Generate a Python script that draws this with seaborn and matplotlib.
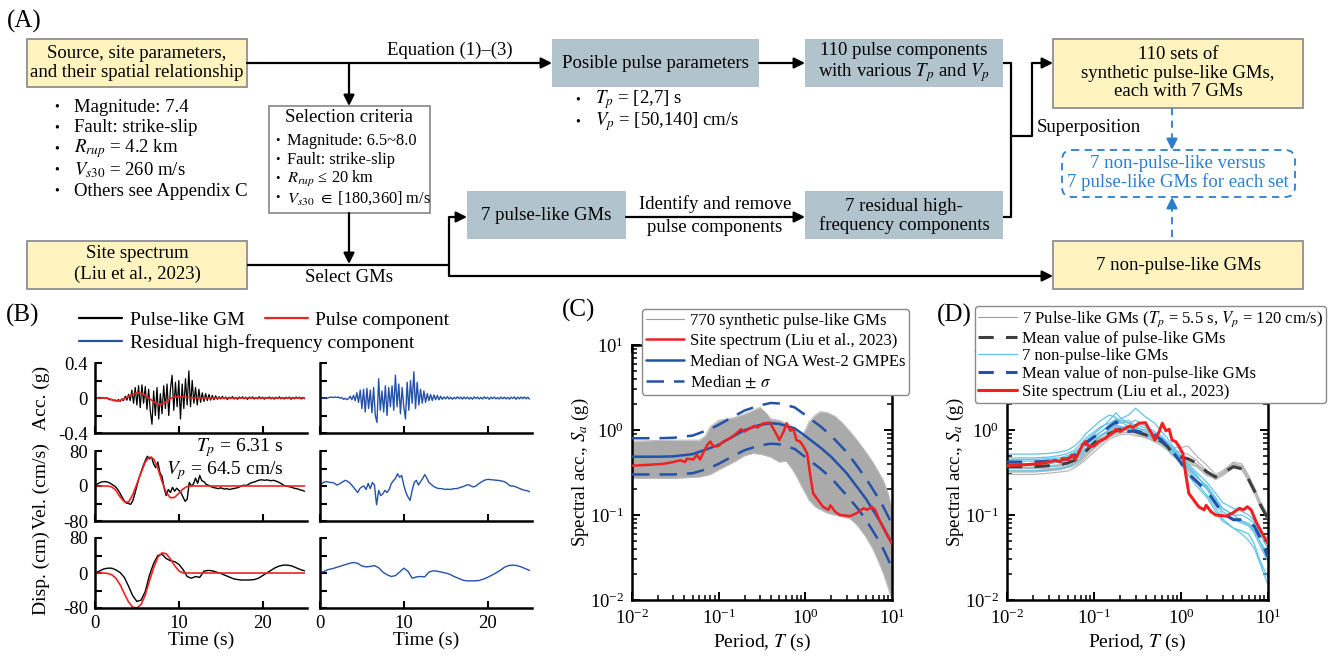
import numpy as np
import matplotlib
matplotlib.use('Agg')
import matplotlib.pyplot as plt
from matplotlib.patches import Rectangle, FancyBboxPatch
from matplotlib.lines import Line2D
import seaborn as sns

sns.set_style('ticks')
plt.rcParams['font.family'] = ['Liberation Serif', 'DejaVu Serif']
plt.rcParams['mathtext.fontset'] = 'stix'
plt.rcParams['axes.unicode_minus'] = False
for k in ['axes.edgecolor', 'xtick.color', 'ytick.color', 'text.color', 'axes.labelcolor']:
    plt.rcParams[k] = 'black'

W, H = 1332, 659

# ---------------- data: panel (B), time histories ----------------
# acceleration (g), sampled every 0.2 s
acc_gm = [0.0, 0.005, -0.005, 0.008, -0.004, 0.006, -0.008, 0.004, -0.012, -0.02,
          -0.015, -0.03, -0.022, -0.035, -0.018, -0.04, -0.01, -0.03, 0.02, -0.025,
          0.04, -0.03, 0.09, -0.06, 0.12, -0.08, 0.14, -0.11, 0.15, -0.06,
          0.13, -0.13, 0.10, -0.15, -0.30, 0.08, -0.20, 0.12, -0.24, 0.05,
          -0.18, 0.14, -0.12, 0.16, -0.20, 0.10, 0.26, -0.14, 0.18, -0.10,
          0.20, -0.24, 0.16, -0.12, 0.22, -0.08, 0.31, -0.10, 0.20, -0.06,
          0.12, -0.08, 0.10, -0.05, 0.06, -0.04, 0.05, -0.03, 0.04, -0.025,
          0.03, -0.02, 0.025, -0.015,
          0.015, -0.012, 0.02, -0.01, 0.012, -0.018, 0.01, -0.008, 0.016, -0.012,
          0.008, -0.015, 0.012, -0.006, 0.014, -0.01, 0.009, -0.016, 0.011, -0.007,
          0.013, -0.012, 0.006, -0.01, 0.015, -0.009, 0.01, -0.014, 0.008, -0.006,
          0.012, -0.011, 0.007, -0.013, 0.01, -0.008, 0.014, -0.01, 0.006, -0.012,
          0.009, -0.007, 0.011, -0.015, 0.008, -0.01, 0.012, -0.006, 0.01, -0.012,
          0.007, -0.009]
acc_res = [0.0, 0.004, -0.003, 0.002, -0.006, 0.003, 0.008, 0.01, 0.005, 0.012,
           0.006, 0.01, -0.004, 0.006, -0.015, -0.005, -0.018, -0.008, 0.02, -0.02,
           0.03, -0.03, 0.06, -0.05, 0.09, -0.12, 0.10, -0.16, 0.11, -0.12,
           0.09, -0.17, 0.12, -0.20, -0.28, 0.22, -0.14, 0.08, -0.16, 0.14,
           -0.20, 0.12, -0.10, 0.14, -0.14, 0.26, -0.10, 0.16, -0.18, 0.12,
           -0.10, -0.24, 0.18, -0.14, 0.20, -0.06, 0.30, -0.12, 0.18, -0.08,
           0.10, -0.06, 0.08, -0.05, 0.05, -0.03, 0.04, -0.03, 0.035, -0.02,
           0.03, -0.02, 0.02, -0.015,
           0.012, -0.01, 0.016, -0.012, 0.01, -0.015, 0.008, -0.01, 0.014, -0.008,
           0.01, -0.013, 0.012, -0.009, 0.011, -0.012, 0.007, -0.014, 0.012, -0.006,
           0.01, -0.011, 0.008, -0.012, 0.013, -0.007, 0.009, -0.015, 0.01, -0.008,
           0.011, -0.01, 0.006, -0.012, 0.012, -0.009, 0.01, -0.011, 0.008, -0.013,
           0.01, -0.006, 0.012, -0.014, 0.009, -0.01, 0.011, -0.008, 0.012, -0.01,
           0.008, -0.012]
# pulse component, sampled every 0.5 s
acc_pulse = [0, 0, 0, -0.003, -0.02, -0.035, -0.03, -0.005, 0.02, 0.045,
             0.058, 0.055, 0.03, -0.005, -0.045, -0.07, -0.068, -0.045, -0.005, 0.012,
             0.016, 0.013, 0.007, 0.002, 0, 0, 0, 0, 0, 0,
             0, 0, 0, 0, 0, 0, 0, 0, 0, 0,
             0, 0, 0, 0, 0, 0, 0, 0, 0, 0, 0]
vel_pulse = [0, 0, 0, 0, -2, -10, -25, -36, -37, -20,
             5, 30, 55, 66, 62, 40, 10, -15, -27, -26,
             -17, -7, -1, 0, 0, 0, 0, 0, 0, 0,
             0, 0, 0, 0, 0, 0, 0, 0, 0, 0,
             0, 0, 0, 0, 0, 0, 0, 0, 0, 0, 0]
disp_pulse = [0, 0, 0, -1, -4, -12, -27, -47, -66, -78,
              -80, -72, -50, -18, 12, 36, 46, 44, 32, 17,
              5, 0, 0, 0, 0, 0, 0, 0, 0, 0,
              0, 0, 0, 0, 0, 0, 0, 0, 0, 0,
              0, 0, 0, 0, 0, 0, 0, 0, 0, 0, 0]
# velocity (cm/s), sampled every 0.25 s
vel_gm = [0, 4, 7, 9, 10, 10, 9, 7, 4, 1,
          -3, -9, -17, -26, -34, -39, -40, -42, -34, -18,
          0, 18, 32, 46, 58, 68, 62, 66, 50, 42,
          55, 30, 22, -5, -22, -8, -15, -3, -12, -5,
          -10, -15, -25, -35, -30, 8, 0, 5, 18, 6,
          24, 12, 10, 4, 2, 0, -3, -4, -5, -6,
          -4, -6, -7, -6, -8, -7, -6, -5, -4, -2,
          0, 2, 1, 3, 6, 8, 9, 11, 13, 14,
          14, 13, 14, 13, 12, 13, 12, 10, 8, 5,
          2, 0, -1, -2, -3, -5, -6, -7, -9, -10, -12]
vel_res = [2, 6, 9, 10, 9, 8, 8, 6, 2, 4,
           7, 10, 13, 11, 8, 3, -3, -9, -15, -6,
           -2, 0, -8, 6, -6, 8, 2, -43, -10, -22,
           -18, -10, -15, -8, 5, 12, 17, 28, 20, 24,
           2, -15, -25, -33, -10, 8, 13, 2, 10, 17,
           26, 18, 8, 4, 0, -3, -5, -6, -6, -7,
           -8, -7, -8, -7, -6, -6, -5, -3, -2, 0,
           2, 3, 0, -2, -1, 2, 6, 9, 12, 14,
           15, 15, 14, 14, 13, 13, 12, 11, 10, 7,
           3, 0, 0, -1, -3, -5, -7, -9, -10, -11, -13]
# displacement (cm), sampled every 0.5 s
disp_gm = [0, 4, 9, 11, 11, 7, 1, -10, -30, -52,
           -65, -62, -42, -5, 22, 40, 43, 33, 28, 26,
           20, 8, -8, -12, -8, -10, 4, 6, 5, 2,
           -1, -5, -9, -13, -15, -16, -16, -16, -15, -12,
           -6, 0, 6, 12, 16, 18, 18, 16, 12, 8, 5]
disp_res = [0, 4, 8, 10, 13, 16, 19, 22, 24, 22,
            16, 14, 15, 17, 12, 2, -4, -8, -6, 2,
            11, 4, -12, -9, -8, -9, 2, 5, 4, 2,
            0, -3, -8, -12, -16, -18, -18, -18, -17, -14,
            -10, -5, 0, 6, 13, 17, 18, 17, 14, 10, 6]

# ---------------- data: panels (C) and (D), response spectra ----------------
T_site = [0.01, 0.016, 0.023, 0.03, 0.036, 0.041, 0.043, 0.051, 0.056, 0.061,
          0.064, 0.074, 0.08, 0.087, 0.1, 0.113, 0.135, 0.16, 0.18, 0.2,
          0.23, 0.26, 0.28, 0.33, 0.39, 0.47, 0.5, 0.56, 0.61, 0.67,
          0.73, 0.79, 0.87, 0.95, 1.05, 1.13, 1.23, 1.4, 1.6, 1.84,
          1.95, 2.2, 2.5, 3.3, 3.9, 4.7, 5.2, 5.8, 6.4, 7.3, 8.8, 10]
Sa_site = [0.38, 0.39, 0.40, 0.42, 0.44, 0.42, 0.46, 0.45, 0.51, 0.45,
           0.50, 0.67, 0.73, 0.64, 0.65, 0.73, 0.80, 0.91, 1.02, 0.96,
           1.05, 1.12, 1.07, 1.2, 1.22, 0.87, 0.76, 0.95, 1.2, 0.98,
           1.02, 0.76, 0.73, 0.64, 0.53, 0.31, 0.18, 0.15, 0.125, 0.115,
           0.13, 0.11, 0.10, 0.097, 0.105, 0.12, 0.115, 0.125, 0.115, 0.083, 0.058, 0.046]

T_nga = [0.01, 0.02, 0.03, 0.05, 0.075, 0.1, 0.15, 0.2, 0.3, 0.4,
         0.5, 0.75, 1, 1.5, 2, 3, 4, 5, 7.5, 10]
Sa_nga_med = [0.485, 0.485, 0.49, 0.52, 0.6, 0.67, 0.85, 1.0, 1.15, 1.2,
              1.18, 1.05, 0.85, 0.62, 0.48, 0.31, 0.21, 0.155, 0.08, 0.046]
Sa_nga_hi = [0.80, 0.80, 0.81, 0.86, 1.0, 1.15, 1.45, 1.7, 1.95, 2.08,
             2.05, 1.85, 1.5, 1.1, 0.85, 0.55, 0.37, 0.27, 0.14, 0.078]
Sa_nga_lo = [0.30, 0.30, 0.30, 0.31, 0.35, 0.40, 0.50, 0.58, 0.66, 0.69,
             0.68, 0.6, 0.48, 0.35, 0.27, 0.17, 0.12, 0.088, 0.045, 0.024]

# envelope of the 770 synthetic pulse-like spectra
T_band = [0.01, 0.03, 0.06, 0.07, 0.08, 0.09, 0.1, 0.15, 0.2, 0.25,
          0.3, 0.35, 0.4, 0.5, 0.6, 0.7, 0.8, 0.9, 1.0, 1.1,
          1.3, 1.5, 1.8, 2.2, 2.7, 3.3, 4, 5, 6, 7, 8, 9, 10]
Sa_band_hi = [0.74, 0.76, 0.76, 0.85, 1.1, 1.2, 1.3, 1.4, 1.55, 1.7,
              1.85, 1.6, 1.35, 1.3, 1.2, 1.05, 0.95, 0.85, 1.0, 1.25,
              1.5, 1.65, 1.6, 1.45, 1.2, 0.95, 0.75, 0.55, 0.42, 0.32, 0.25, 0.18, 0.12]
Sa_band_lo = [0.27, 0.27, 0.28, 0.29, 0.30, 0.32, 0.34, 0.42, 0.5, 0.53,
              0.52, 0.5, 0.48, 0.42, 0.43, 0.35, 0.28, 0.22, 0.18, 0.15,
              0.125, 0.115, 0.105, 0.1, 0.095, 0.09, 0.075, 0.055, 0.04, 0.028, 0.02, 0.014, 0.01]

T_set = [0.01, 0.02, 0.03, 0.04, 0.05, 0.06, 0.07, 0.08, 0.1, 0.12,
         0.15, 0.18, 0.2, 0.25, 0.3, 0.4, 0.5, 0.6, 0.7, 0.8,
         1.0, 1.2, 1.5, 2, 2.5, 3, 4, 5, 6, 7, 8, 10]
Sa_pulse_set = [
    [0.36, 0.36, 0.37, 0.38, 0.40, 0.43, 0.50, 0.58, 0.72, 0.85, 0.95, 1.05, 1.10, 1.05, 0.98, 0.90,
     0.82, 0.70, 0.62, 0.55, 0.50, 0.46, 0.40, 0.30, 0.27, 0.31, 0.40, 0.38, 0.28, 0.20, 0.14, 0.09],
    [0.32, 0.32, 0.33, 0.34, 0.36, 0.38, 0.42, 0.48, 0.60, 0.70, 0.82, 0.90, 0.92, 0.95, 0.90, 0.80,
     0.75, 0.70, 0.65, 0.58, 0.55, 0.52, 0.44, 0.33, 0.28, 0.30, 0.38, 0.36, 0.27, 0.19, 0.14, 0.095],
    [0.40, 0.40, 0.41, 0.42, 0.44, 0.47, 0.52, 0.60, 0.75, 0.88, 1.00, 1.10, 1.05, 1.10, 1.00, 0.85,
     0.88, 0.78, 0.70, 0.62, 0.62, 0.65, 0.50, 0.38, 0.30, 0.33, 0.42, 0.40, 0.29, 0.21, 0.15, 0.10],
    [0.30, 0.30, 0.31, 0.32, 0.33, 0.36, 0.40, 0.45, 0.55, 0.65, 0.78, 0.85, 0.88, 0.90, 0.85, 0.82,
     0.72, 0.65, 0.58, 0.50, 0.44, 0.42, 0.38, 0.30, 0.26, 0.29, 0.36, 0.34, 0.25, 0.18, 0.13, 0.088],
    [0.38, 0.38, 0.38, 0.39, 0.41, 0.45, 0.48, 0.55, 0.68, 0.80, 0.90, 1.00, 1.02, 1.00, 0.95, 0.92,
     0.80, 0.75, 0.66, 0.55, 0.48, 0.44, 0.40, 0.31, 0.28, 0.32, 0.41, 0.37, 0.27, 0.20, 0.14, 0.092],
    [0.35, 0.35, 0.35, 0.36, 0.38, 0.41, 0.46, 0.52, 0.65, 0.75, 0.88, 0.95, 0.98, 1.00, 0.92, 0.85,
     0.78, 0.72, 0.64, 0.54, 0.46, 0.44, 0.40, 0.32, 0.29, 0.30, 0.37, 0.35, 0.26, 0.19, 0.13, 0.09],
    [0.33, 0.33, 0.34, 0.35, 0.37, 0.40, 0.44, 0.50, 0.62, 0.72, 0.85, 0.92, 0.96, 1.05, 1.00, 0.88,
     0.75, 0.68, 0.60, 0.50, 0.42, 0.40, 0.37, 0.29, 0.27, 0.31, 0.39, 0.36, 0.26, 0.19, 0.14, 0.092],
]
Sa_nonpulse_set = [
    [0.52, 0.52, 0.53, 0.55, 0.58, 0.65, 0.75, 0.90, 1.10, 1.30, 1.50, 1.40, 1.20, 1.30, 1.10, 0.95,
     0.90, 0.80, 0.70, 0.60, 0.45, 0.35, 0.28, 0.22, 0.16, 0.12, 0.10, 0.10, 0.09, 0.08, 0.06, 0.04],
    [0.45, 0.45, 0.46, 0.47, 0.50, 0.55, 0.62, 0.75, 0.90, 1.05, 1.30, 1.60, 1.40, 1.20, 1.30, 1.10,
     0.95, 0.85, 0.72, 0.62, 0.48, 0.38, 0.30, 0.20, 0.15, 0.11, 0.09, 0.085, 0.08, 0.065, 0.05, 0.03],
    [0.40, 0.40, 0.40, 0.42, 0.44, 0.48, 0.55, 0.65, 0.80, 0.95, 1.10, 1.20, 1.35, 1.50, 1.80, 1.40,
     1.20, 0.95, 0.80, 0.65, 0.50, 0.40, 0.32, 0.24, 0.18, 0.14, 0.12, 0.11, 0.10, 0.085, 0.065, 0.045],
    [0.36, 0.36, 0.37, 0.38, 0.40, 0.45, 0.52, 0.60, 0.75, 0.85, 1.00, 1.10, 1.05, 1.00, 0.95, 0.85,
     0.80, 0.70, 0.60, 0.52, 0.40, 0.30, 0.24, 0.17, 0.12, 0.09, 0.07, 0.065, 0.06, 0.045, 0.03, 0.018],
    [0.43, 0.43, 0.44, 0.45, 0.48, 0.52, 0.60, 0.72, 0.85, 0.95, 1.15, 1.30, 1.25, 1.10, 1.05, 1.00,
     0.85, 0.75, 0.68, 0.58, 0.42, 0.33, 0.26, 0.20, 0.14, 0.10, 0.09, 0.08, 0.075, 0.06, 0.045, 0.028],
    [0.33, 0.33, 0.34, 0.35, 0.37, 0.40, 0.46, 0.55, 0.70, 0.85, 1.00, 1.15, 1.10, 1.05, 1.00, 0.90,
     0.82, 0.78, 0.65, 0.55, 0.40, 0.30, 0.22, 0.16, 0.11, 0.085, 0.07, 0.06, 0.05, 0.04, 0.028, 0.015],
    [0.47, 0.47, 0.48, 0.50, 0.53, 0.58, 0.68, 0.80, 0.95, 1.10, 1.20, 1.35, 1.30, 1.20, 1.15, 1.05,
     0.90, 0.80, 0.70, 0.60, 0.44, 0.36, 0.29, 0.21, 0.15, 0.12, 0.10, 0.085, 0.075, 0.065, 0.05, 0.035],
]
Sa_pulse_mean = [0.37, 0.37, 0.38, 0.39, 0.41, 0.44, 0.49, 0.56, 0.70, 0.80, 0.91, 0.98, 1.02, 1.02, 0.96, 0.87,
                 0.80, 0.73, 0.64, 0.53, 0.48, 0.46, 0.41, 0.32, 0.28, 0.31, 0.37, 0.35, 0.26, 0.19, 0.137, 0.09]
Sa_nonpulse_mean = [0.42, 0.42, 0.43, 0.44, 0.46, 0.51, 0.58, 0.70, 0.83, 0.91, 1.09, 1.25, 1.07, 0.96, 0.98, 0.91,
                    0.87, 0.76, 0.64, 0.56, 0.41, 0.31, 0.25, 0.19, 0.137, 0.105, 0.088, 0.088, 0.084, 0.073, 0.056, 0.032]

# ---------------- styles ----------------
YELLOW = '#fff4bf'
STEEL = '#b1c4ce'
EDGE = '#8f8f8f'
FLOWBLUE = '#2b7fcf'
RED = '#ee2222'
BLUE = '#2352a8'
CYAN = '#62c3e8'
FS = 13.5

fig = plt.figure(figsize=(W / 100, H / 100), dpi=100)


def px_axes(x0, y0, x1, y1):
    return fig.add_axes([x0 / W, 1 - y1 / H, (x1 - x0) / W, (y1 - y0) / H])


def sline(ax, x, y, **kw):
    sns.lineplot(x=x, y=y, ax=ax, estimator=None, sort=False, legend=False, **kw)
    return ax.lines[-1]


# ---------------- (A) flowchart ----------------
ax0 = fig.add_axes([0, 0, 1, 1])
ax0.set_xlim(0, W)
ax0.set_ylim(H, 0)
ax0.axis('off')


def box(x0, y0, x1, y1, fc, ec='none'):
    ax0.add_patch(Rectangle((x0, y0), x1 - x0, y1 - y0, facecolor=fc, edgecolor=ec, lw=1.3))


def txt(x, y, s, ha='center', fs=FS, **kw):
    ax0.text(x, y, s, ha=ha, va='center', fontsize=fs, **kw)


def seg(xs, ys, **kw):
    ax0.plot(xs, ys, color=kw.pop('color', 'k'), lw=kw.pop('lw', 1.6), solid_capstyle='butt', **kw)


def arrow(x0, y0, x1, y1, color='k'):
    ax0.annotate('', xy=(x1, y1), xytext=(x0, y0),
                 arrowprops=dict(arrowstyle='-|>', color=color, lw=1.6, shrinkA=0, shrinkB=0,
                                 mutation_scale=16))


txt(7, 21, '(A)', ha='left', fs=18)

box(27, 39, 247, 87, YELLOW, EDGE)
txt(137, 63, 'Source, site parameters,\nand their spatial relationship', linespacing=1.13)
source_items = ['Magnitude: 7.4', 'Fault: strike-slip', r'$R_{rup}$ = 4.2 km',
                r'$V_{s30}$ = 260 m/s', 'Others see Appendix C']
for i, s in enumerate(source_items):
    txt(57, 107 + 21 * i, '•', fs=10)
    txt(74, 107 + 21 * i, s, ha='left')

arrow(247, 63, 552, 63)
txt(450, 50, 'Equation (1)–(3)')
arrow(349, 63, 349, 106)

box(269, 106, 430, 213, 'white', EDGE)
txt(349, 118, 'Selection criteria')
criteria = ['Magnitude: 6.5~8.0', 'Fault: strike-slip', r'$R_{rup}$ ≤ 20 km',
            r'$V_{s30}$ $\in$ [180,360] m/s']
for i, s in enumerate(criteria):
    txt(277, 141 + 19 * i, '•', fs=9)
    txt(287, 141 + 19 * i, s, ha='left', fs=11.8)
arrow(349, 213, 349, 264)

box(27, 241, 247, 289, YELLOW, EDGE)
txt(137, 264, 'Site spectrum\n(Liu et al., 2023)', linespacing=1.25)
seg([247, 449], [265, 265])
txt(349, 278, 'Select GMs')
seg([449, 449], [217, 276])
arrow(449, 217, 467, 217)
arrow(449, 276, 1053, 276)

box(552, 39, 759, 87, STEEL)
txt(655, 63, 'Posible pulse parameters')
for i, s in enumerate([r'$T_p$ = [2,7] s', r'$V_p$ = [50,140] cm/s']):
    txt(578, 100 + 22 * i, '•', fs=10)
    txt(595, 100 + 22 * i, s, ha='left')
arrow(759, 63, 805, 63)
box(805, 39, 1003, 87, STEEL)
txt(904, 63, '110 pulse components\nwith various $T_p$ and $V_p$', linespacing=1.1)

box(467, 191, 626, 239, STEEL)
txt(546, 215, '7 pulse-like GMs')
arrow(626, 217, 805, 217)
txt(715, 204, 'Identify and remove')
txt(715, 227, 'pulse components')
box(805, 191, 1003, 239, STEEL)
txt(904, 216, '7 residual high-\nfrequency components', linespacing=1.13)

seg([1003, 1011, 1011, 1003], [63, 63, 217, 217])
seg([1011, 1032, 1032], [136, 136, 63])
arrow(1032, 63, 1053, 63)
txt(1037, 128, 'Superposition', ha='left')

box(1053, 39, 1303, 108, YELLOW, EDGE)
txt(1178, 73, '110 sets of\nsynthetic pulse-like GMs,\neach with 7 GMs', linespacing=1.1)
box(1053, 241, 1303, 289, YELLOW, EDGE)
txt(1178, 265, '7 non-pulse-like GMs')

seg([1172, 1172], [108, 142], color=FLOWBLUE, lw=1.3, ls=(0, (4, 3)))
arrow(1172, 140, 1172, 150, color=FLOWBLUE)
seg([1172, 1172], [237, 205], color=FLOWBLUE, lw=1.3, ls=(0, (4, 3)))
arrow(1172, 207, 1172, 197, color=FLOWBLUE)
ax0.add_patch(FancyBboxPatch((1062, 150), 233, 47, boxstyle='round,pad=0,rounding_size=10',
                             facecolor='none', edgecolor=FLOWBLUE, lw=1.3, ls=(0, (4, 3))))
txt(1178, 173, '7 non-pulse-like versus\n7 pulse-like GMs for each set', color=FLOWBLUE, linespacing=1.05)

# ---------------- (B) time histories ----------------
txt(6, 315, '(B)', ha='left', fs=18)
rows_y = [(363, 433), (451, 521), (538, 608)]
cols_x = [(95, 307), (320, 532)]
t02 = np.arange(len(acc_gm)) * 0.2
t025 = np.arange(len(vel_gm)) * 0.25
t05 = np.arange(len(disp_gm)) * 0.5

series = [
    [(t02, acc_gm, 'k', 0.9), (t05, acc_pulse, RED, 1.2)],
    [(t025, vel_gm, 'k', 1.0), (t05, vel_pulse, RED, 1.2)],
    [(t05, disp_gm, 'k', 1.0), (t05, disp_pulse, RED, 1.2)],
]
series_res = [(t02, acc_res), (t025, vel_res), (t05, disp_res)]
ylims = [(-0.4, 0.4), (-80, 80), (-80, 80)]
yticks = [[-0.4, -0.2, 0, 0.2, 0.4], [-80, -40, 0, 40, 80], [-80, -40, 0, 40, 80]]
yticklabels = [['-0.4', '', '0', '', '0.4'], ['-80', '', '0', '', '80'], ['-80', '', '0', '', '80']]
ylabels = ['Acc. (g)', 'Vel. (cm/s)', 'Disp. (cm)']

axB = {}
for r, (y0, y1) in enumerate(rows_y):
    for c, (x0, x1) in enumerate(cols_x):
        ax = px_axes(x0, y0, x1, y1)
        ax.set_facecolor('none')
        axB[(r, c)] = ax
        if c == 0:
            for tt, yy, col, lw in series[r]:
                sline(ax, tt, yy, color=col, linewidth=lw)
        else:
            tt, yy = series_res[r]
            sline(ax, tt, yy, color=BLUE, linewidth=1.0)
        ax.set_xlim(0, 25.3)
        ax.set_ylim(*ylims[r])
        ax.set_xticks([0, 10, 20])
        ax.set_yticks(yticks[r])
        for s in ['top', 'right']:
            ax.spines[s].set_visible(False)
        for s in ['left', 'bottom']:
            ax.spines[s].set_linewidth(1.8)
        ax.tick_params(direction='in', length=5, width=1.5, labelsize=FS, pad=5)
        if c == 0:
            ax.set_yticklabels(yticklabels[r])
            ax.set_ylabel(ylabels[r], fontsize=14)
            ax.yaxis.set_label_coords((50 - x0) / (x1 - x0), 0.5)
        else:
            ax.set_yticklabels([])
        if r == 2:
            ax.set_xticklabels(['0', '10', '20'])
            ax.set_xlabel('Time (s)', fontsize=14)
            ax.xaxis.set_label_coords(0.5, (y1 - 632) / (y1 - y0))
        else:
            ax.set_xticklabels([])
            ax.set_xlabel('')

axv = axB[(1, 0)]
axv.text(22.5, 89, r'$T_p$ = 6.31 s', ha='right', va='center', fontsize=14)
axv.text(22.5, 36, r'$V_p$ = 64.5 cm/s', ha='right', va='center', fontsize=14)

h_gm = Line2D([], [], color='k', lw=1.6)
h_pu = Line2D([], [], color=RED, lw=1.6)
h_re = Line2D([], [], color=BLUE, lw=1.6)
leg_kw = dict(loc='center left', frameon=False, fontsize=14, handlelength=2.2, handletextpad=0.4,
              borderpad=0, borderaxespad=0, bbox_transform=fig.transFigure)
fig.legend([h_gm, h_pu], ['Pulse-like GM', 'Pulse component'], ncol=2, columnspacing=1.05,
           bbox_to_anchor=(79 / W, 1 - 320 / H), **leg_kw)
fig.legend([h_re], ['Residual high-frequency component'],
           bbox_to_anchor=(79 / W, 1 - 343 / H), **leg_kw)


def spectrum_axes(x0, x1):
    ax = px_axes(x0, 345, x1, 600)
    ax.set_xscale('log')
    ax.set_yscale('log')
    return ax


def finish_spectrum(ax, label_x):
    ax.set_xlim(1e-2, 1e1)
    ax.set_ylim(1e-2, 1e1)
    ax.set_xticks([1e-2, 1e-1, 1e0, 1e1])
    ax.set_yticks([1e-2, 1e-1, 1e0, 1e1])
    for s in ax.spines.values():
        s.set_linewidth(1.8)
    ax.tick_params(which='both', direction='in', top=True, right=True, labelsize=FS, pad=6)
    ax.tick_params(which='major', length=6, width=1.4)
    ax.tick_params(which='minor', length=3.5, width=1.1)
    ax.set_xlabel('Period, $T$ (s)', fontsize=14)
    ax.set_ylabel('Spectral acc., $S_a$ (g)', fontsize=13.5)
    ax.xaxis.set_label_coords(0.5, (600 - 632) / 255)
    ax.yaxis.set_label_coords(label_x, 0.5)


# ---------------- (C) ----------------
txt(562, 310, '(C)', ha='left', fs=18)
axc = spectrum_axes(632, 892)
axc.fill_between(T_band, Sa_band_lo, Sa_band_hi, color='#aaaaaa', lw=0, zorder=1)
sline(axc, T_band, Sa_band_hi, color='#bcbcbc', linewidth=0.7, zorder=1)
sline(axc, T_band, Sa_band_lo, color='#bcbcbc', linewidth=0.7, zorder=1)
hi_line = sline(axc, T_nga, Sa_nga_hi, color=BLUE, linewidth=1.8, zorder=3)
hi_line.set_dashes([7, 4])
lo_line = sline(axc, T_nga, Sa_nga_lo, color=BLUE, linewidth=1.8, zorder=3)
lo_line.set_dashes([7, 4])
med_line = sline(axc, T_nga, Sa_nga_med, color=BLUE, linewidth=1.8, zorder=3)
site_c = sline(axc, T_site, Sa_site, color=RED, linewidth=1.8, zorder=4)
finish_spectrum(axc, (591 - 632) / 260)
legc = axc.legend([Line2D([], [], color='#9c9c9c', lw=0.8), site_c, med_line, hi_line],
                  ['770 synthetic pulse-like GMs', 'Site spectrum (Liu et al., 2023)',
                   'Median of NGA West-2 GMPEs', r'Median $\pm$ $\sigma$'],
                  loc='upper left', bbox_to_anchor=(642 / W, 1 - 309 / H), bbox_transform=fig.transFigure,
                  borderaxespad=0, fontsize=12, handlelength=2.3, handletextpad=0.35, labelspacing=0.28,
                  borderpad=0.22, fancybox=True, edgecolor='#8a8a8a', framealpha=1)
legc.get_frame().set_linewidth(1.0)

# ---------------- (D) ----------------
txt(937, 315, '(D)', ha='left', fs=18)
axd = spectrum_axes(1007, 1268)
for sa in Sa_pulse_set:
    sline(axd, T_set, sa, color='#b8b8b8', linewidth=0.9, zorder=2)
for sa in Sa_nonpulse_set:
    sline(axd, T_set, sa, color=CYAN, linewidth=0.9, zorder=2)
mp = sline(axd, T_set, Sa_pulse_mean, color='#3f3f3f', linewidth=2.2, zorder=3)
mp.set_dashes([5, 4])
mn = sline(axd, T_set, Sa_nonpulse_mean, color=BLUE, linewidth=2.2, zorder=3)
mn.set_dashes([5, 4])
site_d = sline(axd, T_site, Sa_site, color=RED, linewidth=2.2, zorder=4)
finish_spectrum(axd, (966 - 1007) / 261)
legd = axd.legend([Line2D([], [], color='#9c9c9c', lw=0.8), mp, Line2D([], [], color=CYAN, lw=0.9), mn, site_d],
                  [r'7 Pulse-like GMs ($T_p$ = 5.5 s, $V_p$ = 120 cm/s)', 'Mean value of pulse-like GMs',
                   '7 non-pulse-like GMs', 'Mean value of non-pulse-like GMs', 'Site spectrum (Liu et al., 2023)'],
                  loc='upper left', bbox_to_anchor=(975 / W, 1 - 306 / H), bbox_transform=fig.transFigure,
                  borderaxespad=0, fontsize=12, handlelength=2.3, handletextpad=0.3, labelspacing=0.1,
                  borderpad=0.2, fancybox=True, edgecolor='#8a8a8a', framealpha=1)
legd.get_frame().set_linewidth(1.0)

fig.savefig('out.png', dpi=100)
